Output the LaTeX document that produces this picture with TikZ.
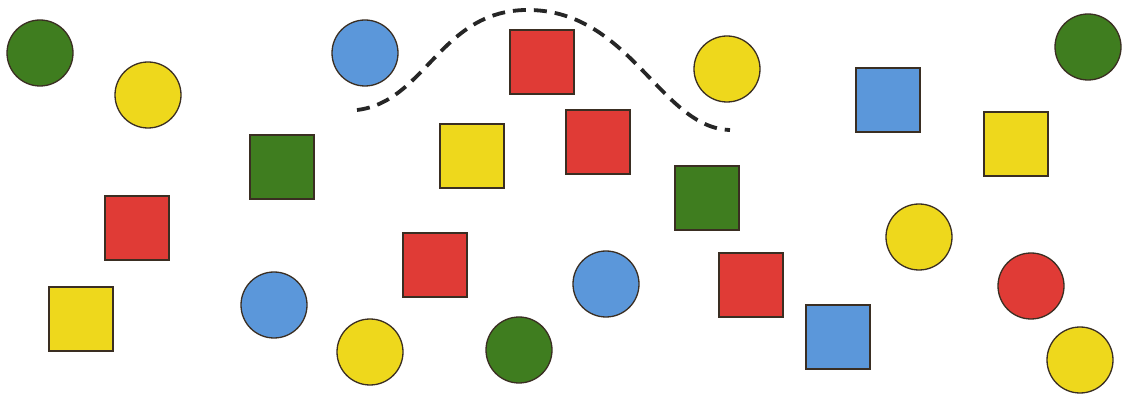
\documentclass[tikz,border=0pt]{standalone}
\definecolor{cgreen}{HTML}{3F7D1F}
\definecolor{cyellow}{HTML}{EED81C}
\definecolor{cblue}{HTML}{5B97DA}
\definecolor{cred}{HTML}{E03B36}
\definecolor{cedge}{HTML}{3A2E22}
\begin{document}
\begin{tikzpicture}[x=1pt,y=-1pt,
  disc/.style={circle,draw=cedge,line width=1.3pt,inner sep=0pt,minimum size=66pt},
  sq/.style={rectangle,draw=cedge,line width=1.1pt,inner sep=0pt,minimum size=64pt},
  path/.style={draw=black!85,line width=3.8pt,dash pattern=on 13pt off 8pt}]
\useasboundingbox (0,0) rectangle (1122,395);
\fill[white] (0,0) rectangle (1122,395);
% circles
\node[disc,fill=cgreen]  (c1)  at (40,53) {};
\node[disc,fill=cyellow] (c2)  at (148,95) {};
\node[disc,fill=cblue]   (c3)  at (365,53) {};
\node[disc,fill=cyellow] (c4)  at (727,69) {};
\node[disc,fill=cgreen]  (c5)  at (1088,47) {};
\node[disc,fill=cyellow] (c6)  at (919,237) {};
\node[disc,fill=cred]    (c7)  at (1031,286) {};
\node[disc,fill=cyellow] (c8)  at (1080,360) {};
\node[disc,fill=cblue]   (c9)  at (274,305) {};
\node[disc,fill=cyellow] (c10) at (370,352) {};
\node[disc,fill=cgreen]  (c11) at (519,350) {};
\node[disc,fill=cblue]   (c12) at (606,284) {};
% squares
\node[sq,fill=cred]    (s1)  at (542,62) {};
\node[sq,fill=cblue]   (s2)  at (888,100) {};
\node[sq,fill=cyellow] (s3)  at (1016,144) {};
\node[sq,fill=cgreen]  (s4)  at (282,167) {};
\node[sq,fill=cyellow] (s5)  at (472,156) {};
\node[sq,fill=cred]    (s6)  at (598,142) {};
\node[sq,fill=cgreen]  (s7)  at (707,198) {};
\node[sq,fill=cred]    (s8)  at (137,228) {};
\node[sq,fill=cred]    (s9)  at (435,265) {};
\node[sq,fill=cred]    (s10) at (751,285) {};
\node[sq,fill=cblue]   (s11) at (838,337) {};
\node[sq,fill=cyellow] (s12) at (81,319) {};
% dashed curve
\coordinate (p0) at (357,110);
\coordinate (p1) at (525,10);
\coordinate (p2) at (730,130);
\draw[path] (p0) .. controls (425,102) and (440,12) .. (p1)
            .. controls (630,8) and (660,128) .. (p2);
\end{tikzpicture}
\end{document}
